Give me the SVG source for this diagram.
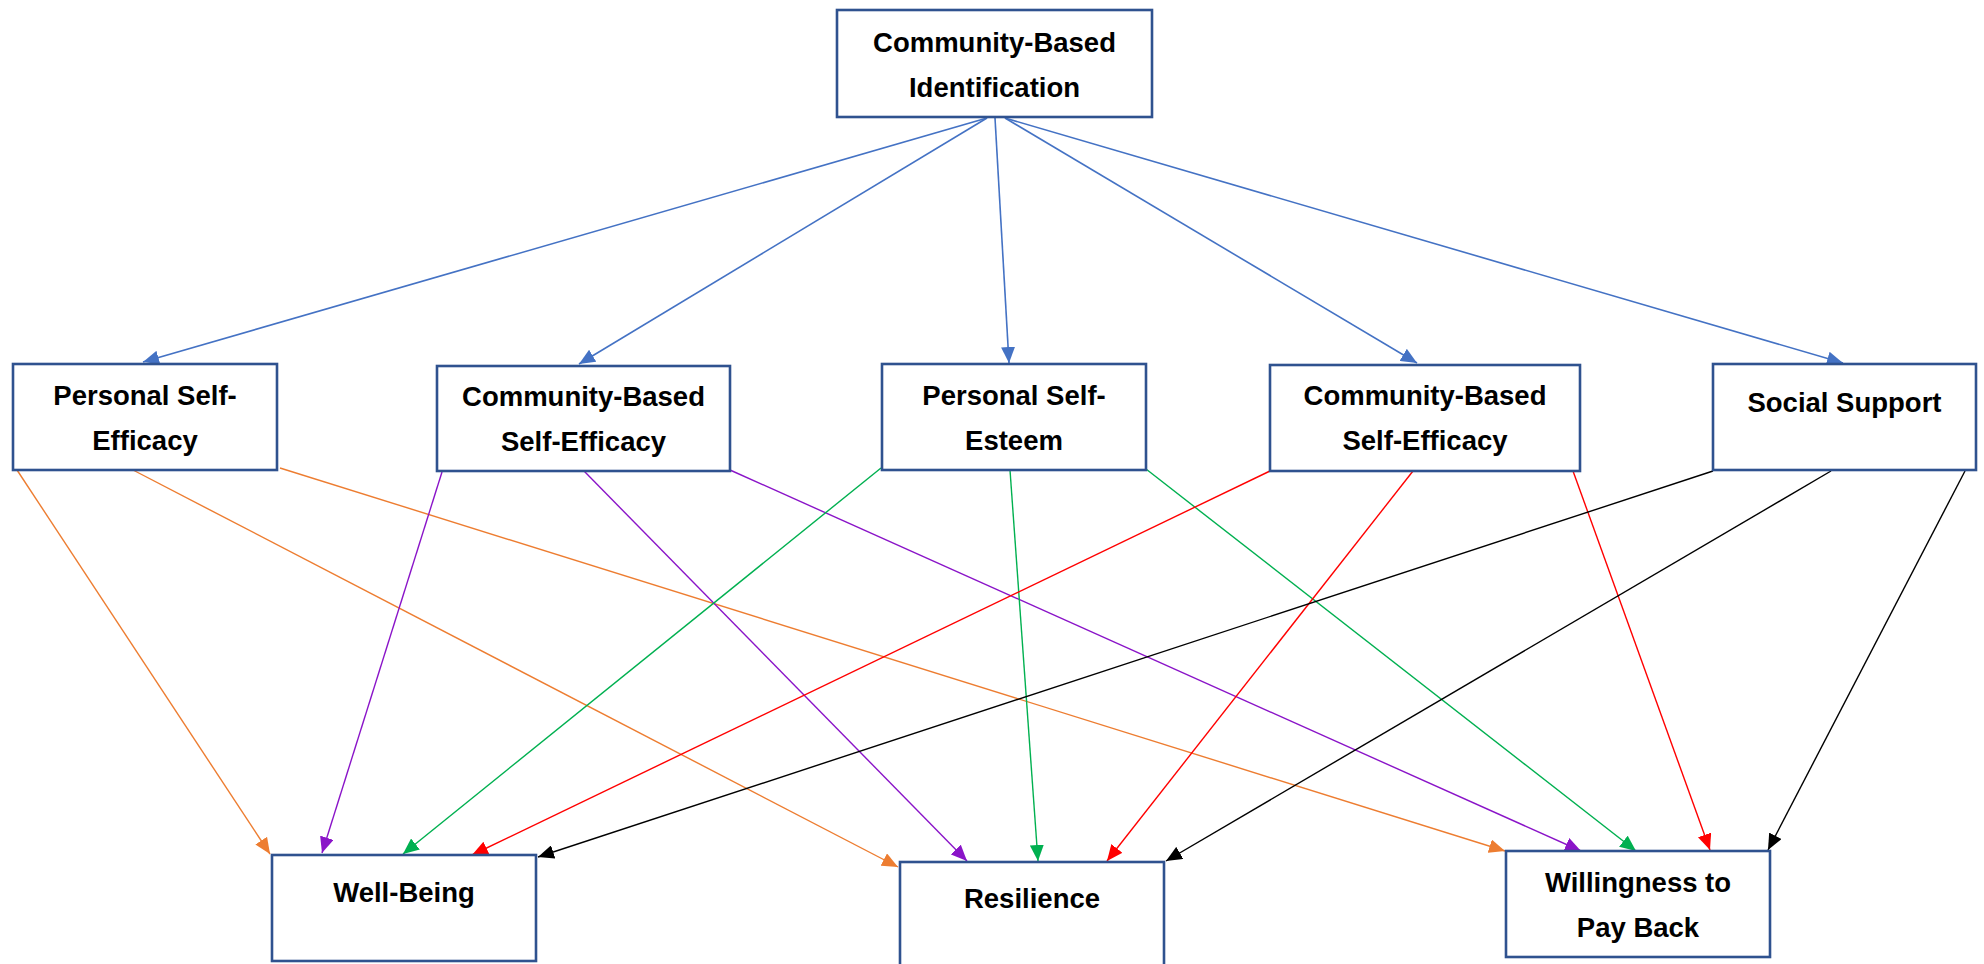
<svg xmlns="http://www.w3.org/2000/svg" width="1984" height="964" viewBox="0 0 1984 964">
  <style>
    .box { fill: #ffffff; stroke: #2F528F; stroke-width: 2.6; }
    .lbl { font-family: "Liberation Sans", Arial, sans-serif; font-weight: bold; font-size: 27.5px; fill: #000000; text-anchor: middle; }
    .edge { fill: none; stroke-width: 1.4; }
    .blue { stroke: #4472C4; stroke-width: 1.6; }
    .orange { stroke: #ED7D31; }
    .purple { stroke: #8A14C8; }
    .green { stroke: #00B050; }
    .red { stroke: #FF0000; }
    .black { stroke: #000000; }
  </style>
  <defs>
    <marker id="ah-blue" markerUnits="userSpaceOnUse" markerWidth="16" markerHeight="14" refX="16" refY="7" orient="auto"><path d="M0,0 L16,7 L0,14 z" fill="#4472C4"/></marker>
    <marker id="ah-orange" markerUnits="userSpaceOnUse" markerWidth="16" markerHeight="14" refX="16" refY="7" orient="auto"><path d="M0,0 L16,7 L0,14 z" fill="#ED7D31"/></marker>
    <marker id="ah-purple" markerUnits="userSpaceOnUse" markerWidth="16" markerHeight="14" refX="16" refY="7" orient="auto"><path d="M0,0 L16,7 L0,14 z" fill="#8A14C8"/></marker>
    <marker id="ah-green" markerUnits="userSpaceOnUse" markerWidth="16" markerHeight="14" refX="16" refY="7" orient="auto"><path d="M0,0 L16,7 L0,14 z" fill="#00B050"/></marker>
    <marker id="ah-red" markerUnits="userSpaceOnUse" markerWidth="16" markerHeight="14" refX="16" refY="7" orient="auto"><path d="M0,0 L16,7 L0,14 z" fill="#FF0000"/></marker>
    <marker id="ah-black" markerUnits="userSpaceOnUse" markerWidth="16" markerHeight="14" refX="16" refY="7" orient="auto"><path d="M0,0 L16,7 L0,14 z" fill="#000000"/></marker>
  </defs>

  <rect width="1984" height="964" fill="#ffffff"/>

  <!-- connectors -->
  <g id="connectors">
    <!-- from Community-Based Identification -->
    <line class="edge blue" x1="987" y1="118" x2="143" y2="362" marker-end="url(#ah-blue)"/>
    <line class="edge blue" x1="987" y1="118" x2="579" y2="364" marker-end="url(#ah-blue)"/>
    <line class="edge blue" x1="995" y1="118" x2="1009" y2="363" marker-end="url(#ah-blue)"/>
    <line class="edge blue" x1="1005" y1="118" x2="1417" y2="363" marker-end="url(#ah-blue)"/>
    <line class="edge blue" x1="1005" y1="118" x2="1843" y2="363" marker-end="url(#ah-blue)"/>

    <!-- from Personal Self-Efficacy -->
    <line class="edge orange" x1="17" y1="470" x2="270" y2="854" marker-end="url(#ah-orange)"/>
    <line class="edge orange" x1="133" y1="470" x2="898" y2="867" marker-end="url(#ah-orange)"/>
    <line class="edge orange" x1="280" y1="468" x2="1505" y2="851" marker-end="url(#ah-orange)"/>

    <!-- from Community-Based Self-Efficacy (left) -->
    <line class="edge purple" x1="442" y1="472" x2="322" y2="853" marker-end="url(#ah-purple)"/>
    <line class="edge purple" x1="584" y1="471" x2="967" y2="861" marker-end="url(#ah-purple)"/>
    <line class="edge purple" x1="730" y1="470" x2="1581" y2="851" marker-end="url(#ah-purple)"/>

    <!-- from Personal Self-Esteem -->
    <line class="edge green" x1="881" y1="468" x2="403" y2="854" marker-end="url(#ah-green)"/>
    <line class="edge green" x1="1010" y1="470" x2="1038" y2="861" marker-end="url(#ah-green)"/>
    <line class="edge green" x1="1146" y1="469" x2="1636" y2="851" marker-end="url(#ah-green)"/>

    <!-- from Community-Based Self-Efficacy (right) -->
    <line class="edge red" x1="1270" y1="471" x2="472" y2="855" marker-end="url(#ah-red)"/>
    <line class="edge red" x1="1413" y1="471" x2="1107" y2="861" marker-end="url(#ah-red)"/>
    <line class="edge red" x1="1573" y1="471" x2="1710" y2="850" marker-end="url(#ah-red)"/>

    <!-- from Social Support -->
    <line class="edge black" x1="1713" y1="471" x2="538" y2="857" marker-end="url(#ah-black)"/>
    <line class="edge black" x1="1831" y1="471" x2="1166" y2="861" marker-end="url(#ah-black)"/>
    <line class="edge black" x1="1965" y1="471" x2="1768" y2="850" marker-end="url(#ah-black)"/>
  </g>

  <!-- top node -->
  <g id="community-identification">
    <rect class="box" x="837" y="10" width="315" height="107"/>
    <text class="lbl" x="994.5" y="52">Community-Based</text>
    <text class="lbl" x="994.5" y="97">Identification</text>
  </g>

  <!-- middle row -->
  <g id="personal-self-efficacy">
    <rect class="box" x="13" y="364" width="264" height="106"/>
    <text class="lbl" x="145" y="405">Personal Self-</text>
    <text class="lbl" x="145" y="450">Efficacy</text>
  </g>
  <g id="community-self-efficacy-1">
    <rect class="box" x="437" y="366" width="293" height="105"/>
    <text class="lbl" x="583.5" y="406">Community-Based</text>
    <text class="lbl" x="583.5" y="451">Self-Efficacy</text>
  </g>
  <g id="personal-self-esteem">
    <rect class="box" x="882" y="364" width="264" height="106"/>
    <text class="lbl" x="1014" y="405">Personal Self-</text>
    <text class="lbl" x="1014" y="450">Esteem</text>
  </g>
  <g id="community-self-efficacy-2">
    <rect class="box" x="1270" y="365" width="310" height="106"/>
    <text class="lbl" x="1425" y="405">Community-Based</text>
    <text class="lbl" x="1425" y="450">Self-Efficacy</text>
  </g>
  <g id="social-support">
    <rect class="box" x="1713" y="364" width="263" height="106"/>
    <text class="lbl" x="1844.5" y="412">Social Support</text>
  </g>

  <!-- bottom row -->
  <g id="well-being">
    <rect class="box" x="272" y="855" width="264" height="106"/>
    <text class="lbl" x="404" y="902">Well-Being</text>
  </g>
  <g id="resilience">
    <rect class="box" x="900" y="862" width="264" height="110"/>
    <text class="lbl" x="1032" y="908">Resilience</text>
  </g>
  <g id="willingness">
    <rect class="box" x="1506" y="851" width="264" height="106"/>
    <text class="lbl" x="1638" y="892">Willingness to</text>
    <text class="lbl" x="1638" y="937">Pay Back</text>
  </g>
</svg>
